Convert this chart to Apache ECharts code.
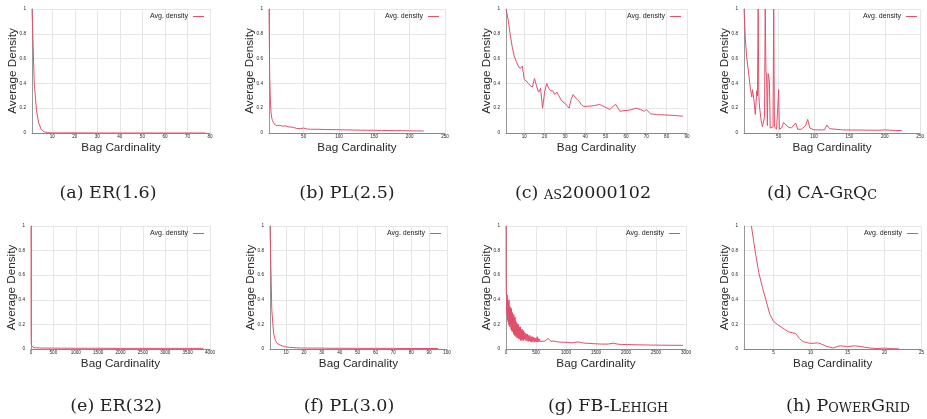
<!DOCTYPE html>
<html><head><meta charset="utf-8">
<script src="https://cdn.jsdelivr.net/npm/echarts@6/dist/echarts.min.js"></script>
<style>html,body{margin:0;padding:0;background:#fff}#c{width:927px;height:419px}</style>
</head><body><div id="c"></div>
<script>
const seriesName = 'Avg. density';
const xTitle = 'Bag Cardinality';
const yTitle = 'Average Density';

// (a) ER(1.6)
const aX = [1,2,3,4,5,6,7,8,9,10,15,20,30,40,50,60,70,78];
const aY = [1,0.4,0.18,0.08,0.032,0.013,0.006,0.003,0.002,0.001,0.001,0.001,0,0,0,0,0,0];
const aTicks = [10,20,30,40,50,60,70,80];
// (b) PL(2.5)
const bX = [1,2,3,4,5,6,7,8,9,10,12,14,16,18,20,22,24,26,28,30,32,34,36,38,40,45,50,55,60,70,80,90,100,110,120,130,140,150,160,170,180,190,200,210,220];
const bY = [1,0.45,0.25,0.16,0.12,0.1,0.085,0.075,0.07,0.064,0.058,0.05,0.062,0.048,0.055,0.05,0.058,0.046,0.05,0.042,0.048,0.04,0.045,0.038,0.036,0.035,0.04,0.032,0.03,0.03,0.028,0.027,0.026,0.025,0.024,0.023,0.022,0.022,0.021,0.02,0.019,0.019,0.018,0.017,0.016];
const bTicks = [50,100,150,200,250];
// (c) as20000102
const cX = [1,2,3,4,5,6,7,8,9,10,11,12,13,14,15,16,17,18,19,20,21,22,23,24,25,26,27,28,29,30,31,32,33,34,35,36,37,38,39,41,44,47,49,52,54,55,57,59,62,65,67,69,70,72,75,80,85,88];
const cY = [1,0.92,0.8,0.7,0.62,0.58,0.54,0.52,0.54,0.43,0.42,0.4,0.38,0.37,0.44,0.38,0.33,0.36,0.2,0.33,0.4,0.36,0.34,0.34,0.31,0.33,0.3,0.27,0.25,0.24,0.22,0.2,0.27,0.31,0.29,0.27,0.255,0.23,0.215,0.215,0.22,0.23,0.215,0.19,0.22,0.23,0.175,0.18,0.185,0.2,0.19,0.175,0.19,0.155,0.148,0.145,0.14,0.135];
const cTicks = [10,20,30,40,50,60,70,80,90];
// (d) CA-GrQc
const dX = [1,3,5,8,10,12,13,15,17,19,20,21,22,23,25,27,29,30,31,32,33,34,35,36,37,38,40,42,43,44,47,49,50,51,54,57,63,68,74,77,82,88,91,94,100,115,118,122,140,190,200,215,224];
const dY = [1,0.75,0.6,0.46,0.36,0.29,0.35,0.27,0.15,0.34,0.3,1,0.3,0.21,0.11,0.05,0.04,0.13,1,0.5,0.45,0.06,0.48,0.46,0.4,0.04,0.05,0.05,1,0.05,0.03,0.02,0.35,0.03,0.04,0.085,0.05,0.04,0.08,0.03,0.03,0.06,0.11,0.04,0.025,0.025,0.065,0.035,0.025,0.022,0.025,0.02,0.02];
const dTicks = [50,100,150,200,250];
// (e) ER(32)
const eX = [1,2,3,5,10,20,50,100,200,500,1000,1500,2000,2500,3000,3500,3850];
const eY = [1,0.25,0.12,0.06,0.03,0.02,0.012,0.01,0.008,0.007,0.006,0.006,0.005,0.005,0.005,0.005,0.005];
// (f) PL(3.0)
const fX = [1,2,3,4,5,6,7,8,9,10,12,14,16,18,20,25,30,35,40,50,60,70,80,90,95];
const fY = [1,0.32,0.13,0.07,0.045,0.035,0.03,0.025,0.02,0.017,0.013,0.011,0.01,0.008,0.008,0.007,0.007,0.006,0.006,0.005,0.005,0.005,0.004,0.004,0.004];
const fTicks = [10,20,30,40,50,60,70,80,90,100];
// (g) FB-Lehigh
const gX = [1,2,5,
  10,15,20,25,30,35,40,45,50,55,60,65,70,75,80,85,90,95,100,105,110,115,120,125,130,135,140,145,150,155,160,165,170,175,180,185,190,195,200,205,210,215,220,225,230,235,240,245,250,255,260,265,270,275,280,285,290,295,300,
  310,320,330,340,350,360,370,380,390,400,410,420,430,440,450,460,470,480,490,500,510,520,530,540,550,560,570,580,590,600,
  650,700,720,750,800,850,900,1000,1100,1200,1250,1300,1400,1500,1600,1700,1800,1850,1900,2000,2200,2400,2600,2800,2950];
const gY = [1,0.6,0.45,
  0.42,0.28,0.44,0.24,0.4,0.22,0.38,0.2,0.4,0.19,0.35,0.18,0.34,0.2,0.31,0.16,0.33,0.15,0.3,0.14,0.29,0.16,0.27,0.12,0.28,0.13,0.25,0.11,0.26,0.12,0.23,0.1,0.22,0.11,0.21,0.09,0.2,0.1,0.19,0.09,0.2,0.08,0.18,0.09,0.17,0.08,0.18,0.07,0.16,0.08,0.15,0.07,0.16,0.08,0.14,0.07,0.15,0.07,0.14,
  0.08,0.13,0.07,0.12,0.065,0.12,0.06,0.11,0.065,0.11,0.06,0.1,0.055,0.1,0.06,0.095,0.055,0.09,0.06,0.09,0.06,0.1,0.055,0.085,0.06,0.08,0.06,0.075,0.062,0.07,
  0.065,0.085,0.07,0.062,0.065,0.058,0.056,0.055,0.05,0.058,0.052,0.048,0.045,0.042,0.04,0.04,0.048,0.04,0.038,0.036,0.034,0.032,0.031,0.03,0.03];
// (h) PowerGrid
const hX = [2,2.5,3,3.5,4,4.5,5,5.5,6,6.5,7,7.5,8,8.5,9,10,11,11.5,12,13,13.5,14,15,16,17,18,19,20,21,22];
const hY = [1,0.8,0.62,0.5,0.39,0.28,0.225,0.2,0.18,0.16,0.14,0.133,0.125,0.085,0.06,0.045,0.05,0.04,0.025,0.008,0.018,0.026,0.02,0.026,0.018,0.008,0.004,0.007,0.003,0.001];
const hTicks = [5,10,15,20,25];

const captions = [
  '{n|(a) ER(1.6)}', '{n|(b) PL(2.5)}', '{n|(c) }{s|AS}{n|20000102}', '{n|(d) CA-G}{s|R}{n|Q}{s|C}',
  '{n|(e) ER(32)}', '{n|(f) PL(3.0)}', '{n|(g) FB-L}{s|EHIGH}', '{n|(h) P}{s|OWER}{n|G}{s|RID}'
];

const panels = [
  {xs:aX, ys:aY, ticks:aTicks, min:1, max:80, L:32, R:210, row:0, cap:108},
  {xs:bX, ys:bY, ticks:bTicks, min:1, max:250, L:269, R:445, row:0, cap:347},
  {xs:cX, ys:cY, ticks:cTicks, min:1, max:90, L:506, R:687, row:0, cap:583},
  {xs:dX, ys:dY, ticks:dTicks, min:1, max:250, L:744, R:923, row:0, cap:822},
  {xs:eX, ys:eY, interval:500, min:0, max:4000, L:31, R:210, row:1, cap:116},
  {xs:fX, ys:fY, ticks:fTicks, min:1, max:100, L:270, R:447, row:1, cap:349},
  {xs:gX, ys:gY, interval:500, min:0, max:3000, L:506, R:686, row:1, cap:608},
  {xs:hX, ys:hY, ticks:hTicks, min:1, max:25, L:744, R:924, row:1, cap:848}
];
const rows = [{top:9, h:124, leg:17, cap:192}, {top:226, h:123, leg:234, cap:405}];
const lineColor = '#e0506a';
const sans = 'Liberation Sans, Arial, sans-serif';

const grid=[], xAxis=[], yAxis=[], series=[], legend=[], graphic=[];
panels.forEach((p,i)=>{
  const r = rows[p.row];
  grid.push({left:p.L, top:r.top, width:p.R-p.L, height:r.h, containLabel:false});
  const xa = {type:'value', gridIndex:i, min:p.min, max:p.max,
    name:xTitle, nameLocation:'middle', nameGap:9, nameMoveOverlap:false,
    nameTextStyle:{fontFamily:sans, fontSize:11.7, color:'#2a2a2a'},
    axisLine:{lineStyle:{color:'#888', width:1}},
    axisTick:{show:false},
    axisLabel:{fontFamily:sans, fontSize:4.6, color:'#222', margin:1.5, formatter:v=>String(v)},
    splitLine:{show:true, lineStyle:{color:'#e6e6e6', width:1}}};
  if (p.ticks) {
    xa.axisTick.customValues = p.ticks;
    xa.axisLabel.customValues = p.ticks;
  } else {
    xa.interval = p.interval;
  }
  xAxis.push(xa);
  yAxis.push({type:'value', gridIndex:i, min:0, max:1, interval:0.2,
    name:yTitle, nameLocation:'middle', nameGap:13, nameRotate:90, nameMoveOverlap:false,
    nameTextStyle:{fontFamily:sans, fontSize:11.7, color:'#2a2a2a'},
    axisLine:{show:true, lineStyle:{color:'#999', width:1}},
    axisTick:{show:false},
    axisLabel:{fontFamily:sans, fontSize:4.6, color:'#222', margin:6},
    splitLine:{show:true, lineStyle:{color:'#e6e6e6', width:1}}});
  series.push({type:'line', name:seriesName, xAxisIndex:i, yAxisIndex:i,
    data:p.xs.map((x,j)=>[x,p.ys[j]]), symbol:'none', clip:true,
    lineStyle:{color:lineColor, width:1}, itemStyle:{color:lineColor}});
  legend.push({data:[{name:seriesName, icon:'rect'}], right:927-(p.R-6), top:r.leg-4,
    align:'right', padding:0, itemWidth:11, itemHeight:1, selectedMode:false,
    textStyle:{fontFamily:sans, fontSize:7, color:'#222', padding:[0,0,0,0]}});
  graphic.push({type:'text', x:p.cap, y:r.cap, style:{text:captions[i], align:'center', verticalAlign:'middle',
    rich:{n:{fontFamily:'DejaVu Serif', fontSize:17.5, fill:'#222', lineHeight:20, verticalAlign:'bottom'},
          s:{fontFamily:'DejaVu Serif', fontSize:12.8, fill:'#222', lineHeight:20, verticalAlign:'bottom'}}}});
});

const chart = echarts.init(document.getElementById('c'), null, {renderer:'canvas'});
chart.setOption({animation:false, backgroundColor:'#fff', grid, xAxis, yAxis, series, legend, graphic});
</script></body></html>
